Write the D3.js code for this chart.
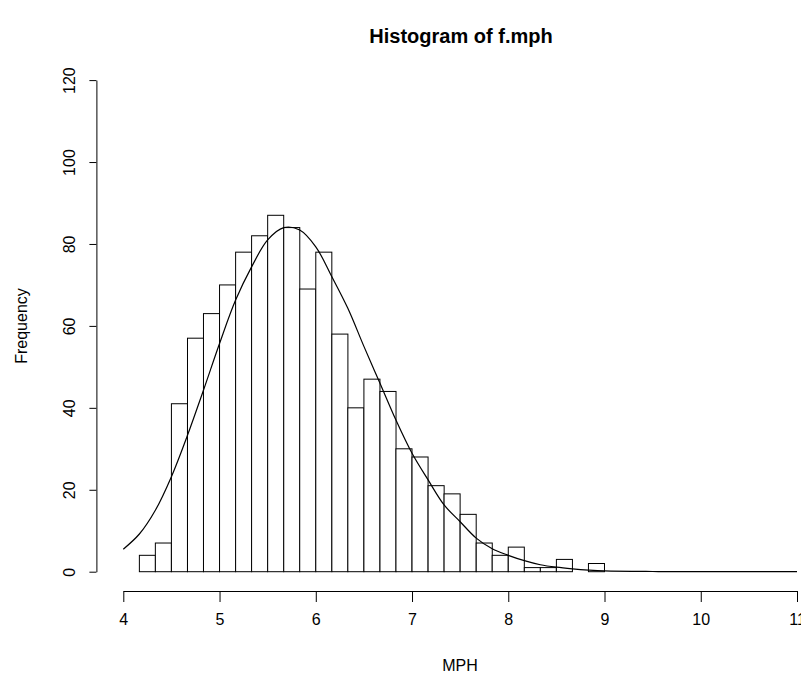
<!DOCTYPE html>
<html lang="en">

<head>
    <meta charset="UTF-8">
    <meta name="viewport" content="width=device-width, initial-scale=1.0">
    <script src="https://d3js.org/d3.v7.min.js"></script>
    <script>

    // lower edge of each bin (bin width 1/6 mph)
    const binStarts = [4.000, 4.167, 4.333, 4.500, 4.667, 4.833, 5.000, 5.167, 5.333, 5.500,
                       5.667, 5.833, 6.000, 6.167, 6.333, 6.500, 6.667, 6.833, 7.000, 7.167,
                       7.333, 7.500, 7.667, 7.833, 8.000, 8.167, 8.333, 8.500, 8.667, 8.833];
    const binWidth = 1 / 6;
    const counts = [0, 4, 7, 41, 57, 63, 70, 78, 82, 87,
                    84, 69, 78, 58, 40, 47, 44, 30, 28, 21,
                    19, 14, 7, 4, 6, 1, 1, 3, 0, 2];

    // fitted density curve (scaled to counts)
    const curveX = [4.0, 4.167, 4.333, 4.5, 4.667, 4.833, 5.0, 5.167, 5.333, 5.5,
                    5.667, 5.833, 6.0, 6.167, 6.333, 6.5, 6.667, 6.833, 7.0, 7.167,
                    7.333, 7.5, 7.667, 7.833, 8.0, 8.167, 8.333, 8.5, 8.667, 8.833,
                    9.0, 9.5, 10.0, 10.5, 11.0];
    const curveY = [5.5, 9.2, 15.0, 23.2, 33.3, 44.3, 55.7, 66.3, 74.4, 81,
                    84, 83.4, 79.3, 72, 64.3, 55, 46, 37, 28.9, 22.4,
                    16.3, 12.2, 8.2, 5.6, 4.0, 2.7, 1.7, 1.1, 0.7, 0.4,
                    0.2, 0.05, 0.01, 0, 0];

    const xTicks = [4, 5, 6, 7, 8, 9, 10, 11];
    const yTicks = [0, 20, 40, 60, 80, 100, 120];

    function plot(){

        const svg = d3.select("svg");
        const font = "'Liberation Sans', Arial, Helvetica, sans-serif";

        const x = d3.scaleLinear()
            .domain([4, 11])
            .range([123.3, 797]);

        const y = d3.scaleLinear()
            .domain([0, 120])
            .range([571.7, 80.1]);

        // bars
        svg.append("g").selectAll("rect").data(counts).enter()
            .append("rect")
            .attr("x", (d,i) => x(binStarts[i]))
            .attr("width", (d,i) => x(binStarts[i] + binWidth) - x(binStarts[i]))
            .attr("y", d => y(d))
            .attr("height", d => y(0) - y(d))
            .attr("fill", "white")
            .attr("stroke", "black")
            .attr("stroke-width", 1);

        // density curve
        var lnMkr = d3.line()
            .x((d,i) => x(curveX[i]))
            .y(d => y(Math.max(0, d)))
            .curve(d3.curveCatmullRom.alpha(0.5));

        svg.append("path")
            .attr("fill", "none")
            .attr("stroke", "black")
            .attr("stroke-width", 1.2)
            .attr("d", lnMkr(curveY));

        // x axis sits a bit below the bars, like R does
        const xAxis = svg.append("g")
            .attr("transform", "translate(0, 591)")
            .call(d3.axisBottom(x).tickValues(xTicks).tickFormat(d3.format("d"))
                .tickSize(11).tickSizeOuter(0).tickPadding(12));

        const yAxis = svg.append("g")
            .attr("transform", "translate(96.4, 0)")
            .call(d3.axisLeft(y).tickValues(yTicks).tickFormat(d3.format("d"))
                .tickSize(7).tickSizeOuter(0));

        yAxis.selectAll(".tick text")
            .attr("transform", "rotate(-90)")
            .attr("x", 0)
            .attr("y", -21)
            .attr("dy", 0)
            .style("text-anchor", "middle");

        svg.selectAll(".domain, .tick line").attr("stroke", "black");
        svg.selectAll(".tick text")
            .attr("fill", "black")
            .style("font-family", font)
            .style("font-size", "16px");

        svg.append("text")
            .attr("x", 461)
            .attr("y", 43)
            .attr("text-anchor", "middle")
            .style("font-family", font)
            .style("font-size", "20px")
            .style("font-weight", "bold")
            .text("Histogram of f.mph");

        svg.append("text")
            .attr("x", 460)
            .attr("y", 671)
            .attr("text-anchor", "middle")
            .style("font-family", font)
            .style("font-size", "16px")
            .text("MPH");

        svg.append("text")
            .attr("transform", "translate(27, 326) rotate(-90)")
            .attr("text-anchor", "middle")
            .style("font-family", font)
            .style("font-size", "16px")
            .text("Frequency");
    }

    </script>
    <title>Histogram of f.mph</title>
    <style>
        body { margin: 0; background: white; }
        svg { display: block; }
    </style>
</head>

<body onload="plot()">

    <svg id="graph"
        width="801" height="679">
    </svg>

</body>

</html>
